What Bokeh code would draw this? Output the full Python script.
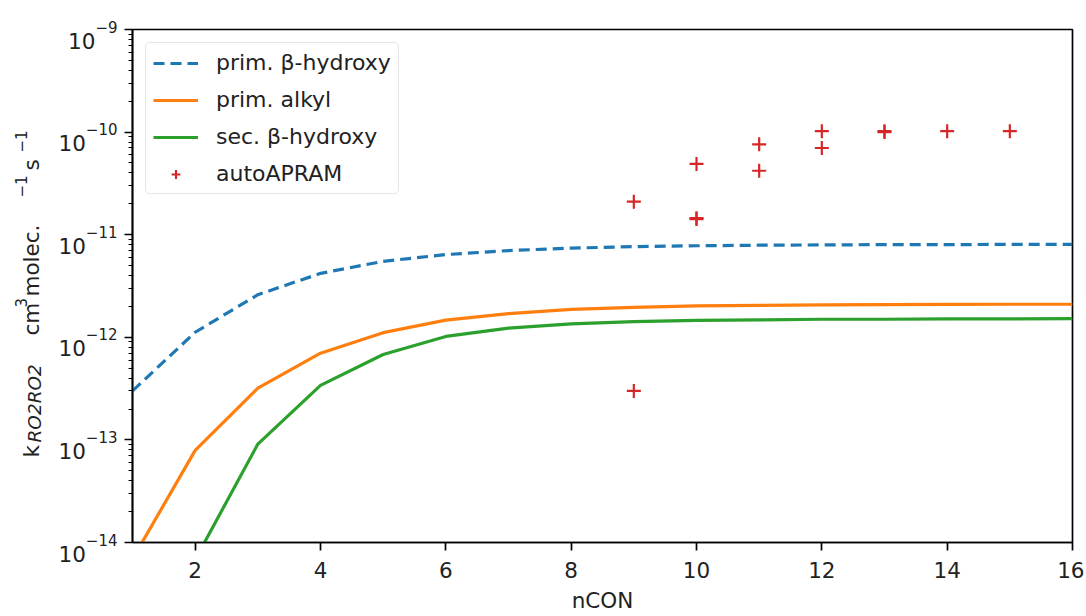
import math
from bokeh.plotting import figure
from bokeh.layouts import row
from bokeh.models import (Range1d, FixedTicker, CustomJSTickFormatter, Legend,
                          LegendItem)
from bokeh.core.properties import value
from bokeh.embed import file_html
from bokeh.resources import INLINE

# ---------------- data ----------------
ncon = [1, 2, 3, 4, 5, 6, 7, 8, 9, 10, 11, 12, 13, 14, 15, 16]
prim_b_hydroxy = [3.0e-13, 1.12e-12, 2.6e-12, 4.2e-12, 5.5e-12, 6.4e-12, 7.0e-12, 7.4e-12,
                  7.65e-12, 7.8e-12, 7.9e-12, 7.95e-12, 8.0e-12, 8.0e-12, 8.05e-12, 8.05e-12]
prim_alkyl = [6.9e-15, 7.9e-14, 3.2e-13, 7.0e-13, 1.11e-12, 1.47e-12, 1.70e-12, 1.87e-12,
              1.96e-12, 2.02e-12, 2.05e-12, 2.07e-12, 2.08e-12, 2.09e-12, 2.1e-12, 2.1e-12]
sec_b_hydroxy = [4e-16, 6.8e-15, 9.1e-14, 3.4e-13, 6.8e-13, 1.02e-12, 1.23e-12, 1.35e-12,
                 1.42e-12, 1.46e-12, 1.48e-12, 1.50e-12, 1.50e-12, 1.51e-12, 1.51e-12, 1.52e-12]
auto_x = [9, 9, 10, 10, 10, 11, 11, 12, 12, 13, 13, 14, 15]
auto_y = [2.1e-11, 3.0e-13, 4.9e-11, 1.42e-11, 1.45e-11, 7.6e-11, 4.2e-11,
          1.02e-10, 7.0e-11, 1.0e-10, 1.02e-10, 1.02e-10, 1.02e-10]
x_ticks = [2, 4, 6, 8, 10, 12, 14, 16]
y_decades = [-14, -13, -12, -11, -10, -9]
y_min_exp, y_max_exp = -14, -9

FONT = "DejaVu Sans"
FS = "21.5px"
SUP = "15px"
TXT = "#222222"

# ---------------- layout constants (pixels) ----------------
H = 616
FRAME_TOP = 29
FRAME_BOTTOM = 542
DEC_PX = (FRAME_BOTTOM - FRAME_TOP) / (y_max_exp - y_min_exp)

probe = figure()
CAN_UNALIGN = "frame_align" in probe.properties()
LEFT_W = 124 if CAN_UNALIGN else 50

# ---------------- main figure ----------------
p = figure(width=1084 - LEFT_W, height=H, output_backend="svg", toolbar_location=None,
           y_axis_type="log", x_range=Range1d(1, 16),
           y_range=Range1d(10.0 ** y_min_exp, 10.0 ** y_max_exp),
           min_border_left=132 - LEFT_W, min_border_top=FRAME_TOP, min_border_right=12,
           min_border_bottom=H - FRAME_BOTTOM)
p.grid.visible = False
p.outline_line_color = "black"
p.outline_line_width = 1.7
p.background_fill_color = "white"
p.border_fill_color = "white"

l1 = p.line(ncon, prim_b_hydroxy, line_color="#1f77b4", line_width=3.2, line_dash="11 6")
l2 = p.line(ncon, prim_alkyl, line_color="#ff7f0e", line_width=3.2)
l3 = p.line(ncon, sec_b_hydroxy, line_color="#2ca02c", line_width=3.2)
s1 = p.scatter(auto_x, auto_y, marker="cross", size=14, line_color="#d62728",
               line_width=2.2)

p.xaxis.ticker = FixedTicker(ticks=x_ticks)
p.yaxis.ticker = FixedTicker(
    ticks=[10.0 ** e for e in y_decades],
    minor_ticks=[k * 10.0 ** e for e in y_decades[:-1] for k in range(2, 10)])
for ax in [p.xaxis[0], p.yaxis[0]]:
    ax.axis_line_width = 1.7
    ax.axis_line_color = "black"
    ax.major_tick_line_width = 1.7
    ax.major_tick_line_color = "black"
    ax.minor_tick_line_width = 1.2
    ax.minor_tick_line_color = "black"
    ax.major_tick_in = 0
    ax.major_tick_out = 8
    ax.minor_tick_in = 0
    ax.minor_tick_out = 4
    ax.major_label_text_font = FONT
    ax.major_label_text_font_size = FS
    ax.major_label_text_color = TXT
    ax.axis_label_text_font = FONT
    ax.axis_label_text_font_size = FS
    ax.axis_label_text_font_style = "normal"
    ax.axis_label_text_color = TXT
p.xaxis.minor_tick_line_color = None
p.xaxis.major_label_standoff = 11
p.xaxis.axis_label = "nCON"
p.xaxis.axis_label_standoff = 7

if CAN_UNALIGN:
    p.yaxis.formatter = CustomJSTickFormatter(code="return '';")
    p.yaxis.major_label_standoff = 0
else:
    p.yaxis.formatter = CustomJSTickFormatter(code="""
const e = Math.round(Math.log10(tick));
const sup = {'-':'\u207b','0':'\u2070','1':'\u00b9','2':'\u00b2','3':'\u00b3','4':'\u2074',
             '5':'\u2075','6':'\u2076','7':'\u2077','8':'\u2078','9':'\u2079'};
return '10' + String(e).split('').map(c => sup[c]).join('');
""")
    p.yaxis.major_label_standoff = 6

legend = Legend(items=[
    LegendItem(label="prim. \u03b2-hydroxy", renderers=[l1]),
    LegendItem(label="prim. alkyl", renderers=[l2]),
    LegendItem(label="sec. \u03b2-hydroxy", renderers=[l3]),
    LegendItem(label="autoAPRAM", renderers=[s1]),
], location="top_left")
legend.margin = 13
legend.padding = 7
legend.spacing = 12
legend.glyph_width = 45
legend.glyph_height = 22
legend.label_height = 22
legend.label_standoff = 18
legend.label_text_font = FONT
legend.label_text_font_size = "22px"
legend.label_text_color = TXT
legend.border_line_color = "#cccccc"
legend.border_line_width = 1.2
legend.background_fill_alpha = 0.8
if "border_radius" in legend.properties():
    legend.border_radius = 5
p.add_layout(legend)

# ---------------- left panel: y tick labels and y axis label ----------------
if CAN_UNALIGN:
    y_lo, y_hi = 0, H
else:
    y_lo, y_hi = H - FRAME_BOTTOM, H - FRAME_TOP
lf = figure(width=LEFT_W, height=H, output_backend="svg", toolbar_location=None,
            x_range=Range1d(0, LEFT_W), y_range=Range1d(y_lo, y_hi), min_border=0,
            x_axis_location=None, y_axis_location=None)
lf.grid.visible = False
lf.outline_line_color = None
lf.background_fill_color = "white"
lf.border_fill_color = "white"
if CAN_UNALIGN:
    lf.frame_align = False
    p.frame_align = False

    # tick labels 10^e, right edge at x=117
    EM_MINUS, EM_DIGIT = 0.838, 0.636
    tick_y = [H - (FRAME_BOTTOM - (e - y_min_exp) * DEC_PX) for e in y_decades]
    exp_txt = ["\u2212" + str(-e) for e in y_decades]
    exp_w = [15 * (EM_MINUS + EM_DIGIT * (len(t) - 1)) for t in exp_txt]
    lf.text(x=[117] * len(y_decades), y=[ty + 3 for ty in tick_y], text=exp_txt,
            text_font=value(FONT), text_font_size=value(SUP), text_color=TXT,
            text_align="right", text_baseline="alphabetic")
    lf.text(x=[117 - w for w in exp_w], y=[ty - 11 for ty in tick_y],
            text=["10"] * len(y_decades),
            text_font=value(FONT), text_font_size=value(FS), text_color=TXT,
            text_align="right", text_baseline="alphabetic")

# rotated axis label: k_{RO2RO2} cm^3 molec.^-1 s^-1
BASE_X = 31
rot = dict(angle=math.pi / 2, text_font=value(FONT), text_color=TXT,
           text_align="left", text_baseline="alphabetic")
lf.text(x=[BASE_X] * 4, y=[H - 457, H - 335, H - 296, H - 170],
        text=["k", "cm", "molec.", "s"], text_font_size=value(FS), **rot)
lf.text(x=[BASE_X + 3], y=[H - 442], text=["RO2RO2"], text_font_size=value("18.5px"),
        text_font_style="italic", **rot)
lf.text(x=[BASE_X - 11] * 3, y=[H - 307, H - 197, H - 152],
        text=["3", "\u22121", "\u22121"], text_font_size=value(SUP), **rot)

layout = row(lf, p, spacing=0)
open("out.html", "w").write(file_html(layout, INLINE))
